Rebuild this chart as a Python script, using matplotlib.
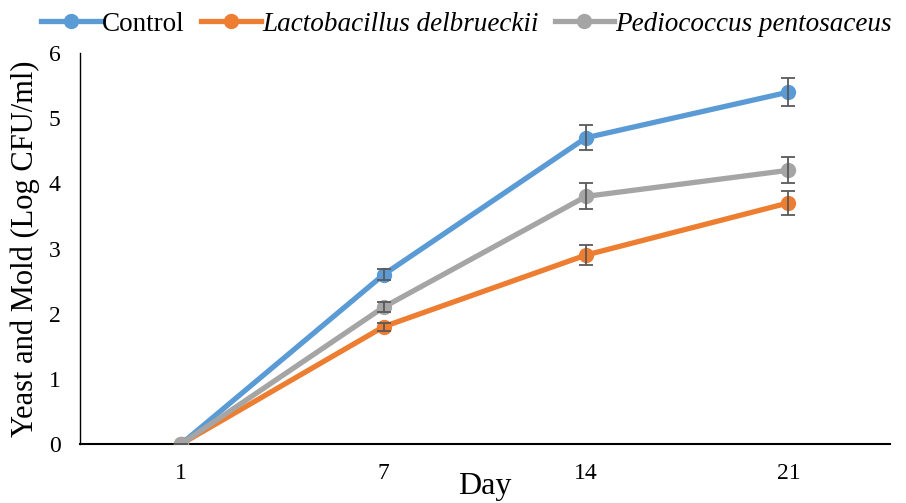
import numpy as np
import matplotlib.pyplot as plt

plt.rcParams['font.family'] = ['Liberation Serif', 'DejaVu Serif']

days = ['1', '7', '14', '21']
control = [0, 2.6, 4.7, 5.4]
control_err = [0, 0.08, 0.19, 0.21]
lacto = [0, 1.8, 2.9, 3.7]
lacto_err = [0, 0.06, 0.15, 0.18]
pedio = [0, 2.1, 3.8, 4.2]
pedio_err = [0, 0.08, 0.2, 0.2]

x = np.arange(len(days))

fig = plt.figure(figsize=(9.06, 5.03), dpi=100)
ax = fig.add_axes([0.0883, 0.1173, 0.8937, 0.7773])

series = [
    (control, control_err, '#5B9BD5', 'Control'),
    (lacto, lacto_err, '#ED7D31', 'Lactobacillus delbrueckii'),
    (pedio, pedio_err, '#A5A5A5', 'Pediococcus pentosaceus'),
]
handles = []
for y, e, c, lab in series:
    ln, = ax.plot(x, y, color=c, lw=3.8, marker='o', ms=10, label=lab, zorder=3)
    ax.errorbar(x, y, yerr=e, fmt='none', ecolor='#595959', elinewidth=1.3,
                capsize=5, capthick=1.3, zorder=4)
    handles.append(ln)

ax.set_xlim(-0.5, 3.5)
ax.set_ylim(0, 6)
ax.set_xticks(x)
ax.set_xticklabels(days)
ax.set_yticks(range(7))
ax.tick_params(length=0, labelsize=17, pad=14)
ax.tick_params(axis='y', pad=14)
for s in ['top', 'right']:
    ax.spines[s].set_visible(False)
ax.spines['left'].set_color('black')
ax.spines['bottom'].set_color('black')
ax.spines['bottom'].set_linewidth(1.5)
ax.spines['left'].set_linewidth(1.0)

ax.set_xlabel('Day', fontsize=23, labelpad=-9)
ax.set_ylabel('Yeast and Mold (Log CFU/ml)', fontsize=22, labelpad=6)

leg = fig.legend(handles=handles, loc='upper center', bbox_to_anchor=(0.515, 1.025),
                 ncol=3, frameon=False, fontsize=19.5, handlelength=2.2,
                 handletextpad=0.05, columnspacing=0.6)
for t in leg.get_texts()[1:]:
    t.set_fontstyle('italic')

fig.savefig('out.png', dpi=100)
